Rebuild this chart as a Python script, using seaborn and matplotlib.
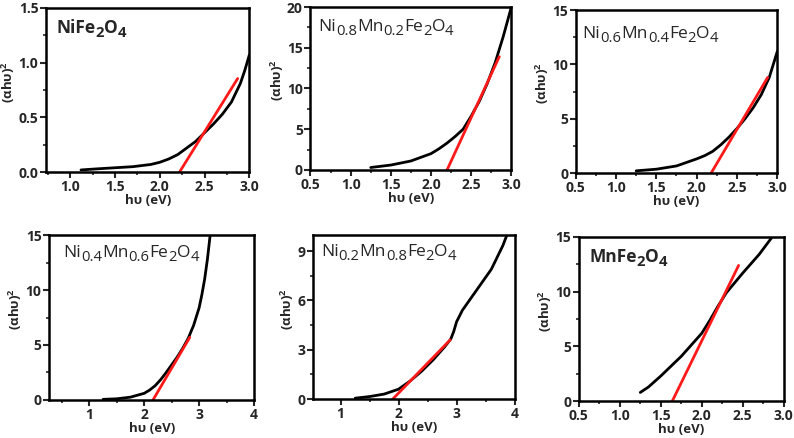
import re
import pandas as pd
import seaborn as sns
import matplotlib.pyplot as plt
from matplotlib.ticker import MultipleLocator, FormatStrFormatter
from matplotlib.transforms import offset_copy

# ---------------- Data ----------------
# NiFe2O4
ni100_hv = [1.12, 1.3, 1.5, 1.7, 1.9, 2.0, 2.1, 2.2, 2.3, 2.4, 2.5, 2.6, 2.7, 2.8, 2.9, 2.95, 3.0]
ni100_y = [0.02, 0.03, 0.04, 0.05, 0.07, 0.09, 0.12, 0.16, 0.22, 0.28, 0.36, 0.44, 0.53, 0.64, 0.81, 0.93, 1.07]
ni100_fit_hv = [2.22, 2.87]
ni100_fit_y = [0.0, 0.855]

# Ni0.8Mn0.2Fe2O4
ni80_hv = [1.25, 1.5, 1.75, 2.0, 2.1, 2.2, 2.3, 2.4, 2.5, 2.6, 2.7, 2.8, 2.9, 3.0]
ni80_y = [0.3, 0.6, 1.1, 2.0, 2.6, 3.3, 4.1, 5.0, 6.6, 8.4, 10.6, 13.2, 16.4, 20.0]
ni80_fit_hv = [2.2, 2.85]
ni80_fit_y = [0.0, 13.9]

# Ni0.6Mn0.4Fe2O4
ni60_hv = [1.25, 1.5, 1.75, 2.0, 2.1, 2.2, 2.3, 2.4, 2.5, 2.6, 2.7, 2.8, 2.9, 3.0]
ni60_y = [0.2, 0.35, 0.65, 1.3, 1.6, 2.0, 2.6, 3.3, 4.1, 5.0, 6.0, 7.2, 8.8, 11.2]
ni60_fit_hv = [2.18, 2.88]
ni60_fit_y = [0.0, 8.8]

# Ni0.4Mn0.6Fe2O4
ni40_hv = [1.25, 1.5, 1.75, 2.0, 2.1, 2.2, 2.3, 2.4, 2.5, 2.6, 2.7, 2.8, 2.9, 3.0, 3.05, 3.1, 3.15, 3.2]
ni40_y = [0.05, 0.1, 0.25, 0.6, 0.9, 1.3, 1.85, 2.5, 3.2, 3.9, 4.7, 5.6, 6.8, 8.4, 9.6, 11.0, 12.8, 15.0]
ni40_fit_hv = [2.16, 2.83]
ni40_fit_y = [0.0, 5.7]

# Ni0.2Mn0.8Fe2O4
ni20_hv = [1.25, 1.5, 1.75, 2.0, 2.2, 2.4, 2.6, 2.8, 2.9, 2.95, 3.0, 3.1, 3.2, 3.4, 3.6, 3.8, 3.87]
ni20_y = [0.05, 0.15, 0.3, 0.6, 1.1, 1.7, 2.4, 3.2, 3.65, 4.1, 4.7, 5.4, 5.9, 6.9, 7.9, 9.35, 10.0]
ni20_fit_hv = [1.9, 2.89]
ni20_fit_y = [0.0, 3.6]

# MnFe2O4
mn100_hv = [1.25, 1.35, 1.5, 1.75, 2.0, 2.1, 2.2, 2.3, 2.5, 2.7, 2.85]
mn100_y = [0.8, 1.3, 2.3, 4.1, 6.2, 7.4, 8.7, 9.9, 11.7, 13.4, 14.9]
mn100_fit_hv = [1.64, 2.45]
mn100_fit_y = [0.0, 12.4]

titles = ["NiFe2O4", "Ni0.8Mn0.2Fe2O4", "Ni0.6Mn0.4Fe2O4",
          "Ni0.4Mn0.6Fe2O4", "Ni0.2Mn0.8Fe2O4", "MnFe2O4"]

# ---------------- Panel settings ----------------
panels = [
    # x, y, fit x, fit y, xlim, ylim, x step, y step, x fmt, y fmt, title weight, title pos, rect
    (ni100_hv, ni100_y, ni100_fit_hv, ni100_fit_y, (0.73, 3.0), (0, 1.5), 0.5, 0.5, "%.1f", "%.1f", "bold", (0.05, 0.85), [0.058, 0.607, 0.256, 0.375]),
    (ni80_hv, ni80_y, ni80_fit_hv, ni80_fit_y, (0.5, 3.0), (0, 20), 0.5, 5, "%.1f", "%d", "normal", (0.04, 0.85), [0.391, 0.612, 0.253, 0.372]),
    (ni60_hv, ni60_y, ni60_fit_hv, ni60_fit_y, (0.5, 3.0), (0, 15), 0.5, 5, "%.1f", "%d", "normal", (0.035, 0.83), [0.725, 0.605, 0.254, 0.372]),
    (ni40_hv, ni40_y, ni40_fit_hv, ni40_fit_y, (0.27, 4.0), (0, 15), 1, 5, "%d", "%d", "normal", (0.07, 0.87), [0.062, 0.087, 0.258, 0.376]),
    (ni20_hv, ni20_y, ni20_fit_hv, ni20_fit_y, (0.52, 4.0), (0, 10), 1, 3, "%d", "%d", "normal", (0.04, 0.87), [0.394, 0.089, 0.254, 0.375]),
    (mn100_hv, mn100_y, mn100_fit_hv, mn100_fit_y, (0.5, 3.0), (0, 15), 0.5, 5, "%.1f", "%d", "bold", (0.05, 0.85), [0.729, 0.084, 0.258, 0.375]),
]

sns.set_theme(style="ticks")
plt.rcParams['font.family'] = ['Open Sans', 'DejaVu Sans']
plt.rcParams['mathtext.default'] = 'regular'
plt.rcParams['axes.linewidth'] = 1.8

fig = plt.figure(figsize=(7.94, 4.38), dpi=100)
renderer = fig.canvas.get_renderer()


def draw_formula(ax, x, y, formula, weight, size=12.5):
    # chemical formula with large, lowered subscripts (as in the original figure)
    parts = re.findall(r"[A-Za-z]+|[0-9.]+", formula)
    dx = 0
    for p in parts:
        sub = p[0].isdigit()
        tr = offset_copy(ax.transAxes, fig=fig, x=dx, y=-4 if sub else 0, units="dots")
        t = ax.text(x, y, p, transform=tr, fontsize=size * 0.85 if sub else size,
                    fontweight=weight, ha="left", va="baseline")
        dx += t.get_window_extent(renderer).width


for i, (hv, y, fhv, fy, xlim, ylim, xmaj, ymaj, xfmt, yfmt, tw, tpos, rect) in enumerate(panels):
    ax = fig.add_axes(rect)
    curve = pd.DataFrame({"hv": hv, "y": y})
    fit = pd.DataFrame({"hv": fhv, "y": fy})
    sns.lineplot(data=curve, x="hv", y="y", color="black", linewidth=2, ax=ax)
    sns.lineplot(data=fit, x="hv", y="y", color="#ff1a1a", linewidth=2, ax=ax)

    ax.set_xlim(*xlim)
    ax.set_ylim(*ylim)
    ax.xaxis.set_major_locator(MultipleLocator(xmaj))
    ax.xaxis.set_minor_locator(MultipleLocator(xmaj / 2))
    ax.yaxis.set_major_locator(MultipleLocator(ymaj))
    ax.yaxis.set_minor_locator(MultipleLocator(ymaj / 2))
    ax.xaxis.set_major_formatter(FormatStrFormatter(xfmt))
    ax.yaxis.set_major_formatter(FormatStrFormatter(yfmt))
    ax.tick_params(which="major", direction="out", length=4, width=1.5, labelsize=10, pad=1.5)
    ax.tick_params(which="minor", direction="out", length=2.5, width=1.2)
    for lab in ax.get_xticklabels() + ax.get_yticklabels():
        lab.set_fontweight("bold")

    for s in ax.spines.values():
        s.set_visible(True)
        s.set_color("black")

    ax.set_xlabel("hυ (eV)", fontsize=9.5, fontweight="bold", labelpad=0)
    ax.set_ylabel(r"(αhυ)$^{2}$", fontsize=9.5, fontweight="bold", labelpad=1)
    ax.yaxis.label.set_y(0.55)

    draw_formula(ax, tpos[0], tpos[1], titles[i], tw)

fig.savefig("out.png", dpi=100)
